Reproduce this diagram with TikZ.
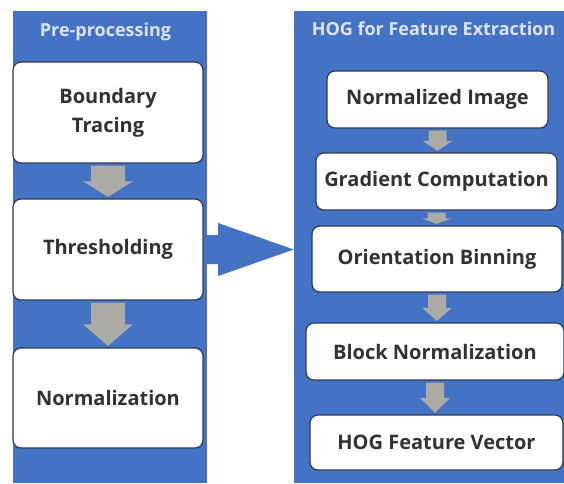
\documentclass[tikz,border=0pt]{standalone}
\usepackage{fontspec}
\setmainfont{Open Sans}
\usetikzlibrary{calc}
\definecolor{panelblue}{RGB}{68,114,196}
\definecolor{headtext}{RGB}{220,228,244}
\definecolor{boxline}{RGB}{45,58,82}
\definecolor{boxtext}{RGB}{50,50,50}
\definecolor{arrowgray}{RGB}{172,170,165}
\newcommand\grayarrow[4]{%
  \fill[arrowgray] let \p1=($(#1.south)+(0,2)$), \p2=($(#2.north)+(0,-1.5)$),
    \p3=($(\p1)!0.5!(\p2)$) in
    (\x1-#3,\y1) -- (\x1+#3,\y1) -- (\x1+#3,\y3) -- (\x1+#4,\y3) -- (\x1,\y2)
    -- (\x1-#4,\y3) -- (\x1-#3,\y3) -- cycle;}
\begin{document}
\begin{tikzpicture}[x=1pt,y=-1pt,
  panel/.style={fill=panelblue, inner sep=0pt, draw=none},
  header/.style={text=headtext, font=\fontsize{18}{22}\selectfont\bfseries, anchor=base, inner sep=0pt},
  stepbox/.style={fill=white, draw=boxline, line width=1.2pt, rounded corners=8pt,
    text=boxtext, font=\fontsize{20}{29}\selectfont\bfseries, align=center, inner sep=0pt}]
\useasboundingbox (0,0) rectangle (564,483);
\fill[white] (0,0) rectangle (564,483);
% panels
\node[panel, minimum width=194pt, minimum height=472pt] (pre) at (110,247) {};
\node[panel, minimum width=270pt, minimum height=472pt] (hog) at (429,247) {};
\node[header] (preh) at (105.5,36) {Pre-processing};
\node[header] (hogh) at (433.5,35) {HOG for Feature Extraction};
% left boxes
\node[stepbox, minimum width=190pt, minimum height=101pt] (b1) at (108,112.5) {Boundary\\Tracing};
\node[stepbox, minimum width=190pt, minimum height=101pt] (b2) at (108,249.5) {Thresholding};
\node[stepbox, minimum width=190pt, minimum height=100pt] (b3) at (108,398) {Normalization};
% right boxes
\node[stepbox, minimum width=221pt, minimum height=57pt] (r1) at (437.5,99.5) {Normalized Image};
\node[stepbox, minimum width=241pt, minimum height=57pt] (r2) at (436.5,181.5) {Gradient Computation};
\node[stepbox, minimum width=250pt, minimum height=66pt] (r3) at (437,259) {Orientation Binning};
\node[stepbox, minimum width=258pt, minimum height=57pt] (r4) at (435,351.5) {Block Normalization};
\node[stepbox, minimum width=253pt, minimum height=55pt] (r5) at (436.5,442.5) {HOG Feature Vector};
% gray arrows
\grayarrow{b1}{b2}{17pt}{25pt}
\grayarrow{b2}{b3}{17pt}{25pt}
\grayarrow{r1}{r2}{9pt}{15pt}
\grayarrow{r2}{r3}{9pt}{15pt}
\grayarrow{r3}{r4}{9pt}{15pt}
\grayarrow{r4}{r5}{9pt}{15pt}
% big blue arrow
\fill[panelblue] let \p1=(pre.east), \p2=(hog.west), \p3=(b2.center) in
  (\x1,\y3+14.5pt) -- (\x1+11pt,\y3+14.5pt) -- (\x1+11pt,\y3+26.5pt) -- (\x2,\y3)
  -- (\x1+11pt,\y3-26.5pt) -- (\x1+11pt,\y3-14.5pt) -- (\x1,\y3-14.5pt) -- cycle;
\end{tikzpicture}
\end{document}
